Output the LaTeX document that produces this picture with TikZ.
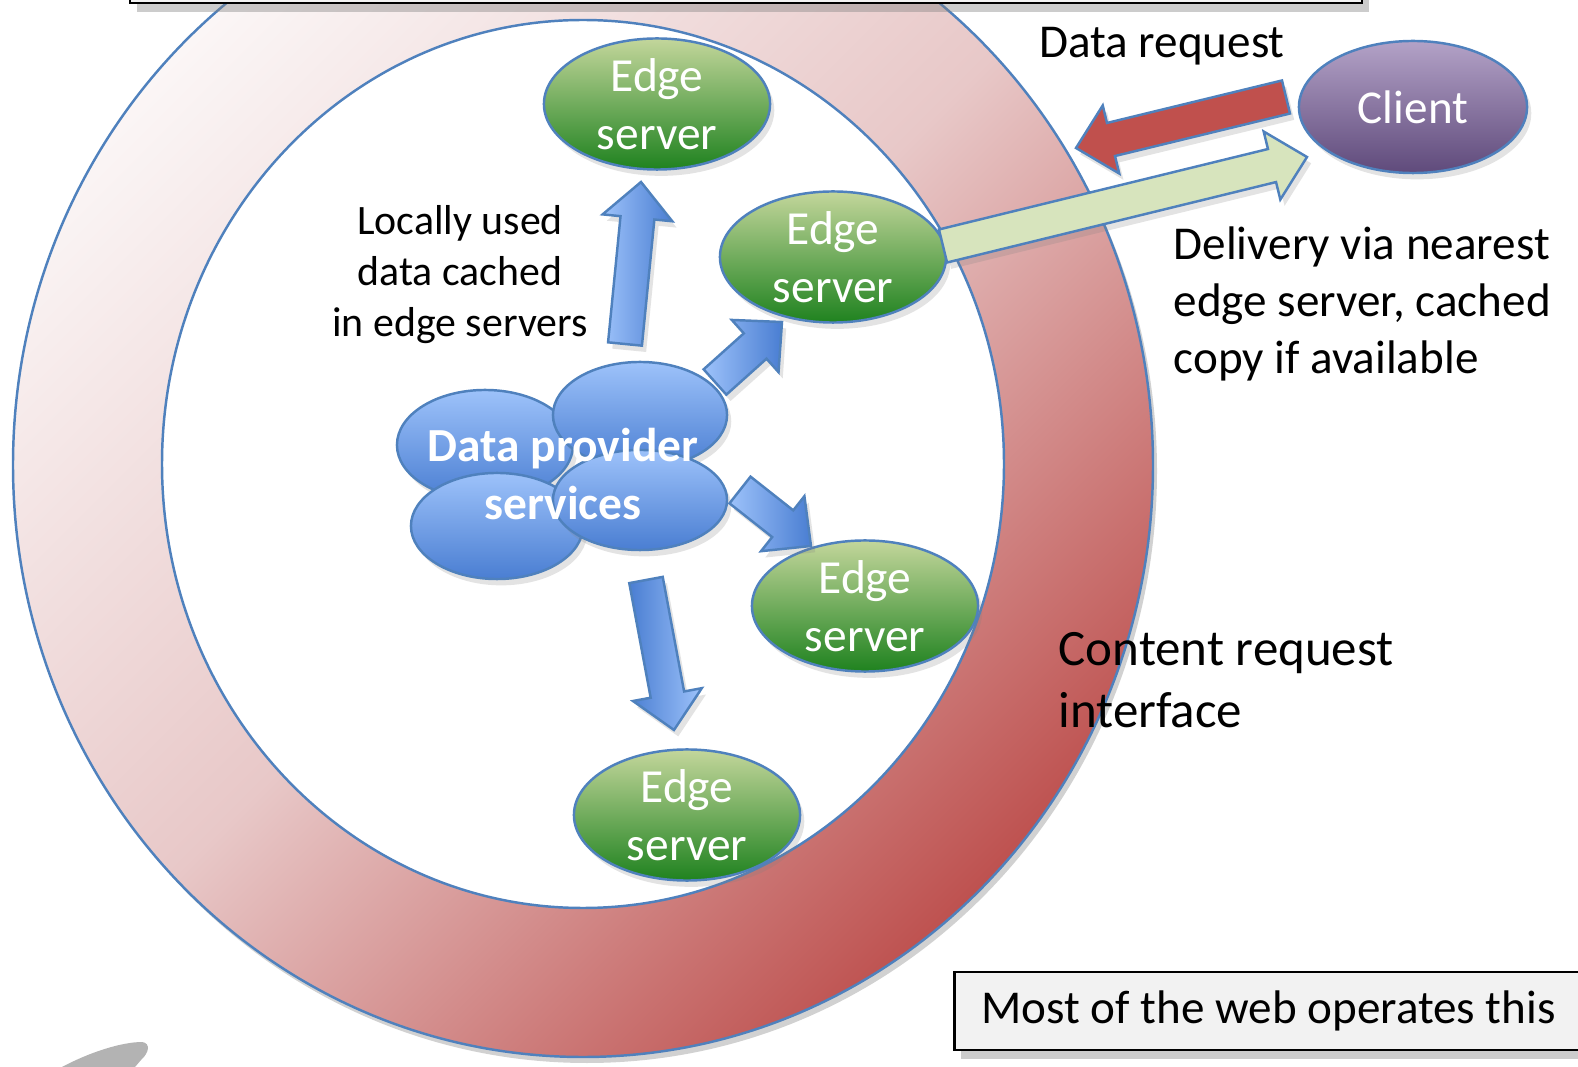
\documentclass[tikz,border=0pt]{standalone}
\usepackage{fontspec}
\setmainfont{Carlito}
\usetikzlibrary{calc,shapes.geometric,shadows}

\definecolor{outline}{HTML}{4F81BD}
\definecolor{ringlight}{HTML}{FBF6F6}
\definecolor{ringmid}{HTML}{E8C8C8}
\definecolor{ringdark}{HTML}{BE5250}
\definecolor{edgetop}{HTML}{C3D69B}
\definecolor{edgebot}{HTML}{1F821F}
\definecolor{provtop}{HTML}{9DC2FA}
\definecolor{provbot}{HTML}{4A7ED2}
\definecolor{clienttop}{HTML}{B3A2C7}
\definecolor{clientbot}{HTML}{5F4A7B}
\definecolor{reqred}{HTML}{C0504D}
\definecolor{dlvgreen}{HTML}{D7E4BD}
\definecolor{boxfill}{HTML}{F2F2F2}
\definecolor{swoosh}{HTML}{B3B3B3}

% sizes of the block arrows
\newcommand{\fatshaft}{0.17cm}
\newcommand{\fathead}{0.35cm}
\newcommand{\fatheadlen}{0.36cm}

% block arrow from #2 to #3, extra style in #1
\newcommand{\fatarrow}[3][]{%
  \coordinate (fa-h) at ($(#3)!\fatheadlen!(#2)$);
  \draw[fatstyle, #1] ($(#2)!\fatshaft!-90:(#3)$) -- ($(fa-h)!\fatshaft!-90:(#3)$)
    -- ($(fa-h)!\fathead!-90:(#3)$) -- (#3) -- ($(fa-h)!\fathead!90:(#3)$)
    -- ($(fa-h)!\fatshaft!90:(#3)$) -- ($(#2)!\fatshaft!90:(#3)$) -- cycle;}

\tikzset{
  softshadow/.style={drop shadow={opacity=0.22, shadow xshift=1.2pt, shadow yshift=-1.8pt}},
  edgesrv/.style={ellipse, draw=outline, line width=0.7pt, top color=edgetop, bottom color=edgebot,
    minimum width=2.26cm, minimum height=1.31cm, inner sep=0pt, align=center, text=white,
    font=\fontsize{13.5}{16.5}\selectfont, softshadow},
  provcloud/.style={ellipse, draw=outline, line width=0.7pt, top color=provtop, bottom color=provbot,
    inner sep=0pt, softshadow},
  clientnode/.style={ellipse, draw=outline, line width=0.7pt, top color=clienttop, bottom color=clientbot,
    minimum width=2.28cm, minimum height=1.32cm, inner sep=0pt, text=white,
    font=\fontsize{13.4}{16.3}\selectfont, softshadow},
  fatstyle/.style={draw=outline, line width=0.7pt, line join=miter, softshadow},
  labeltext/.style={font=\fontsize{13.4}{16.3}\selectfont, inner sep=0pt},
  notebox/.style={draw=black, line width=0.8pt, fill=boxfill,
    drop shadow={opacity=0.4, shadow xshift=2pt, shadow yshift=-2.5pt}},
}

\begin{document}
\begin{tikzpicture}[x=0.01cm, y=-0.01cm]
  \useasboundingbox (0,0) rectangle (1578,1067);

  % the ring
  \fill[black, opacity=0.18] (587,471) ellipse [x radius=570, y radius=592];
  \shade[top color=ringlight, bottom color=ringdark, middle color=ringmid, shading angle=45]
    (583,465) ellipse [x radius=570, y radius=592];
  \draw[outline, line width=0.7pt] (583,465) ellipse [x radius=570, y radius=592];
  \filldraw[fill=white, draw=outline, line width=0.7pt] (583,464) ellipse [x radius=421, y radius=444];

  % box at the top
  \draw[notebox] (130,-40) rectangle (1362,3);

  % edge servers
  \node[edgesrv] (edge1) at (657,104) {Edge\\server};
  \node[edgesrv] (edge2) at (833,257) {Edge\\server};
  \node[edgesrv] (edge3) at (865,606) {Edge\\server};
  \node[edgesrv] (edge4) at (687,815) {Edge\\server};

  % data provider services
  \node[provcloud, minimum width=1.76cm, minimum height=1.10cm] (provA) at (485,445) {};
  \node[provcloud, minimum width=1.74cm, minimum height=1.06cm] (provB) at (640,415) {};
  \node[provcloud, minimum width=1.72cm, minimum height=1.06cm] (provC) at (497,526) {};
  \node[provcloud, minimum width=1.74cm, minimum height=1.00cm] (provD) at (640,500) {};
  \node[align=center, text=white, font=\bfseries\fontsize{13.5}{16.5}\selectfont] (provider)
    at (563,474) {Data provider\\services};

  % client
  \node[clientnode] (client) at (1413,107) {Client};

  % arrow ends
  \coordinate (up0) at (625,344);   \coordinate (up1) at (641,182);
  \coordinate (ne0) at (715,382);   \coordinate (ne1) at (782,322);
  \coordinate (se0) at (740,490);   \coordinate (se1) at (811,546);
  \coordinate (dn0) at (646,580);   \coordinate (dn1) at (674,730);
  \coordinate (req0) at (1286,97);  \coordinate (req1) at (1076,148);
  \coordinate (dlv0) at (943,246);  \coordinate (dlv1) at (1307,157);

  \fatarrow[left color=provtop, right color=provbot]{up0}{up1}
  \fatarrow[left color=provtop, right color=provbot]{ne0}{ne1}
  \fatarrow[left color=provtop, right color=provbot]{se0}{se1}
  \fatarrow[left color=provbot, right color=provtop]{dn0}{dn1}
  \fatarrow[fill=reqred]{req0}{req1}
  \fatarrow[fill=dlvgreen]{dlv0}{dlv1}

  % labels
  \node[labeltext] (datareq) at (1162,46) {Data request};
  \node[labeltext, align=left, anchor=west] (delivery) at (1173,304)
    {Delivery via nearest\\edge server, cached\\copy if available};
  \node[labeltext, align=center, font=\fontsize{11.9}{14.5}\selectfont] (localnote) at (460,275)
    {Locally used\\data cached\\in edge servers};
  \node[labeltext, align=left, anchor=west, font=\fontsize{14.5}{17.6}\selectfont] (contentif)
    at (1058,680) {Content request\\interface};

  % box at the bottom
  \node[notebox, labeltext, anchor=west, inner xsep=0.27cm, minimum height=0.78cm]
    (webnote) at (953,1011) {Most of the web operates this};

  % swoosh in the corner
  \fill[swoosh] (62,1067) .. controls (90,1052) and (122,1042) .. (142,1042)
    .. controls (151,1043) and (149,1053) .. (141,1060) -- (135,1067) -- cycle;
\end{tikzpicture}
\end{document}
